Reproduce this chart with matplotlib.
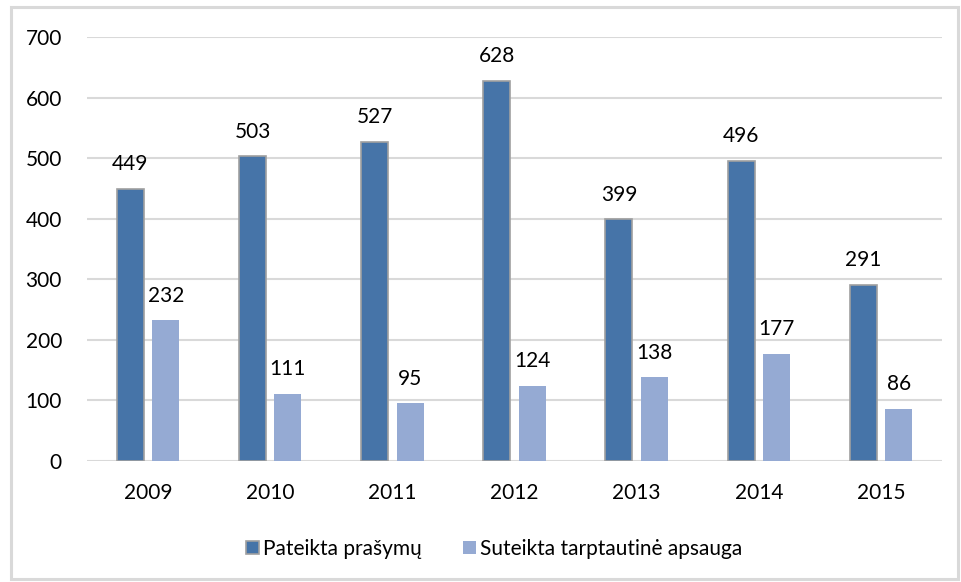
import matplotlib
matplotlib.use("Agg")
import matplotlib.pyplot as plt
from matplotlib.patches import Rectangle
import numpy as np

years = ["2009", "2010", "2011", "2012", "2013", "2014", "2015"]
pateikta = [449, 503, 527, 628, 399, 496, 291]
suteikta = [232, 111, 95, 124, 138, 177, 86]
series_names = ["Pateikta prašymų", "Suteikta tarptautinė apsauga"]
yticks = [0, 100, 200, 300, 400, 500, 600, 700]

plt.rcParams['font.family'] = ['Lato', 'DejaVu Sans']

fig = plt.figure(figsize=(9.61, 5.82), dpi=100)
fig.add_artist(Rectangle((11/961, 3/582), 947/961, 572/582, transform=fig.transFigure,
                         fill=False, edgecolor='#D9D9D9', linewidth=2.2))
ax = fig.add_axes([87/961, 1-461/582, (942-87)/961, (461-37)/582])

x = np.arange(len(years))
w = 0.22
off = 0.145
fs = 15
b1 = ax.bar(x - off, pateikta, w, color='#4674A8', edgecolor='#A0A0A0', linewidth=1.2,
            label=series_names[0], zorder=3)
b2 = ax.bar(x + off, suteikta, w, color='#95AAD3', edgecolor='none',
            label=series_names[1], zorder=3)
for rect, v in zip(b1, pateikta):
    ax.text(rect.get_x() + rect.get_width()/2, v + 24, str(v), ha='center', va='bottom',
            fontsize=fs, color='#000000')
for rect, v in zip(b2, suteikta):
    ax.text(rect.get_x() + rect.get_width()/2, v + 24, str(v), ha='center', va='bottom',
            fontsize=fs, color='#000000')

ax.set_xlim(-0.5, len(years) - 0.5)
ax.set_ylim(0, 700)
ax.set_yticks(yticks)
ax.set_xticks(x)
ax.set_xticklabels(years)
ax.tick_params(axis='both', length=0, labelsize=fs, colors='#000000')
ax.tick_params(axis='y', pad=18)
ax.tick_params(axis='x', pad=16)
ax.grid(axis='y', color='#D9D9D9', linewidth=1.5, zorder=0)
for s in ax.spines.values():
    s.set_visible(False)

handles = [Rectangle((0, 0), 1, 1, facecolor='#4674A8', edgecolor='#A0A0A0', linewidth=1.2),
           Rectangle((0, 0), 1, 1, facecolor='#95AAD3', edgecolor='none')]
fig.legend(handles, series_names, loc='center', bbox_to_anchor=(494/961, 1-549/582),
           ncol=2, frameon=False, fontsize=fs, handlelength=0.6, handleheight=0.6,
           handletextpad=0.2, columnspacing=2.0)

fig.savefig("out.png", dpi=100)
